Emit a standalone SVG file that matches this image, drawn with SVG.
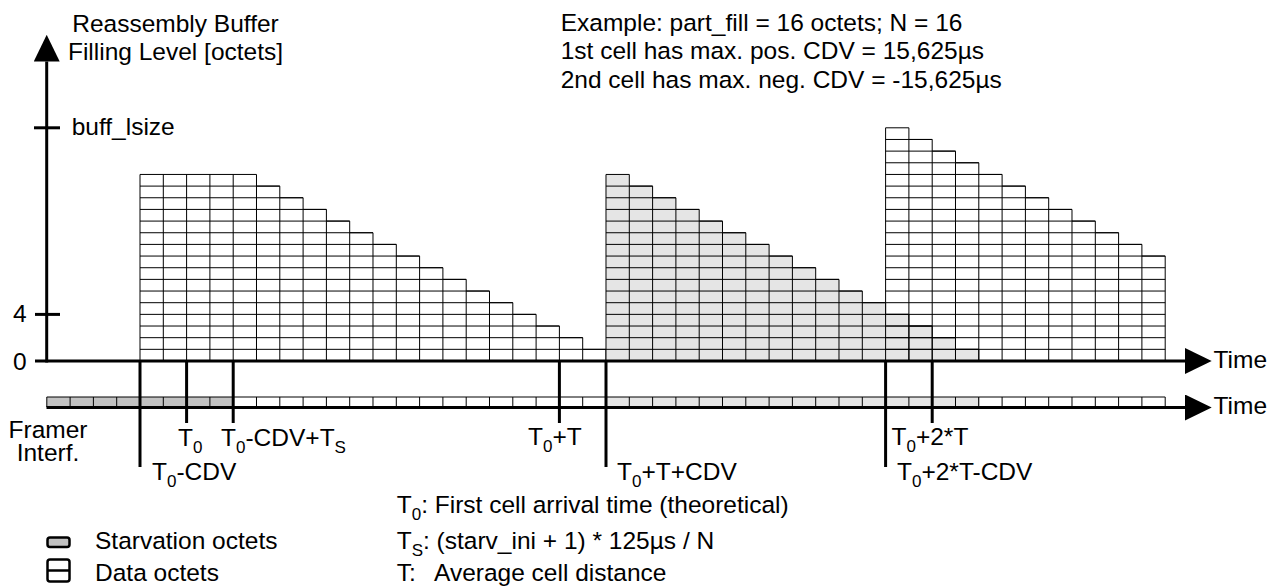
<svg xmlns="http://www.w3.org/2000/svg" width="1278" height="586" viewBox="0 0 1278 586">
<defs>
<marker id="arrow" markerUnits="userSpaceOnUse" markerWidth="27" markerHeight="26" viewBox="0 0 27 26" refX="0" refY="13" orient="auto"><path d="M0,0L26.7,13L0,26Z" fill="#000"/></marker>
</defs>
<style>
text{font-family:"Liberation Sans",Arial,Helvetica,sans-serif;font-size:24.5px;fill:#000}
.sub{font-size:17px}
.ln{fill:none;stroke:#000;stroke-width:1}
.bk{stroke:#000;stroke-width:1}
.w{fill:#fff}.g{fill:#e5e5e5}.s{fill:#c2c2c2}
.axis{stroke:#000;stroke-width:3;fill:none}
.mark{stroke:#000;stroke-width:3;fill:none}
</style>
<rect width="1278" height="586" fill="#fff"/>

<g id="buffer" transform="translate(140,361) scale(23.3,-11.66)">
  <path id="cell1" class="bk w" vector-effect="non-scaling-stroke" d="M0,0V16H5V15H6V14H7V13H8V12H9V11H10V10H11V9H12V8H13V7H14V6H15V5H16V4H17V3H18V2H19V1H20V0Z"/>
  <path id="cell3" class="bk w" vector-effect="non-scaling-stroke" d="M32,0V20H33V19H34V18H35V17H36V16H37V15H38V14H39V13H40V12H41V11H42V10H43V9H44V0Z"/>
  <path id="cell2" class="bk g" vector-effect="non-scaling-stroke" d="M20,0V16H21V15H22V14H23V13H24V12H25V11H26V10H27V9H28V8H29V7H30V6H31V5H32V4H33V3H34V2H35V1H36V0Z"/>
  <path class="ln" vector-effect="non-scaling-stroke" d="M0,1H20M0,2H19M0,3H18M0,4H17M0,5H16M0,6H15M0,7H14M0,8H13M0,9H12M0,10H11M0,11H10M0,12H9M0,13H8M0,14H7M0,15H6
  M1,0V16M2,0V16M3,0V16M4,0V16M5,0V15M6,0V14M7,0V13M8,0V12M9,0V11M10,0V10M11,0V9M12,0V8M13,0V7M14,0V6M15,0V5M16,0V4M17,0V3M18,0V2M19,0V1
  M20,1H36M20,2H35M20,3H34M20,4H33M20,5H32M20,6H31M20,7H30M20,8H29M20,9H28M20,10H27M20,11H26M20,12H25M20,13H24M20,14H23M20,15H22
  M21,0V15M22,0V14M23,0V13M24,0V12M25,0V11M26,0V10M27,0V9M28,0V8M29,0V7M30,0V6M31,0V5M32,0V4M33,0V3M34,0V2M35,0V1
  M32,1H44M32,2H44M32,3H44M32,4H44M32,5H44M32,6H44M32,7H44M32,8H44M32,9H44M32,10H43M32,11H42M32,12H41M32,13H40M32,14H39M32,15H38M32,16H37M32,17H36M32,18H35M32,19H34
  M33,0V19M34,0V18M35,0V17M36,0V16M37,0V15M38,0V14M39,0V13M40,0V12M41,0V11M42,0V10M43,0V9"/>
</g>

<g id="framer" transform="translate(140,0) scale(23.3,1)">
  <rect class="bk s" vector-effect="non-scaling-stroke" x="-4" y="397" width="8" height="10"/>
  <rect class="bk w" vector-effect="non-scaling-stroke" x="4" y="397" width="16" height="10"/>
  <rect class="bk g" vector-effect="non-scaling-stroke" x="20" y="397" width="16" height="10"/>
  <rect class="bk w" vector-effect="non-scaling-stroke" x="36" y="397" width="8" height="10"/>
  <path class="ln" vector-effect="non-scaling-stroke" d="M-3,397v10M-2,397v10M-1,397v10M0,397v10M1,397v10M2,397v10M3,397v10M5,397v10M6,397v10M7,397v10M8,397v10M9,397v10M10,397v10M11,397v10M12,397v10M13,397v10M14,397v10M15,397v10M16,397v10M17,397v10M18,397v10M19,397v10M21,397v10M22,397v10M23,397v10M24,397v10M25,397v10M26,397v10M27,397v10M28,397v10M29,397v10M30,397v10M31,397v10M32,397v10M33,397v10M34,397v10M35,397v10M37,397v10M38,397v10M39,397v10M40,397v10M41,397v10M42,397v10M43,397v10"/>
</g>

<g id="connectors">
  <line class="axis" x1="46.7" y1="362.5" x2="46.7" y2="61.5" marker-end="url(#arrow)"/>
  <line class="axis" x1="35" y1="361" x2="1185" y2="361" marker-end="url(#arrow)"/>
  <line class="axis" x1="46.5" y1="407.5" x2="1185" y2="407.5" marker-end="url(#arrow)"/>
  <line class="axis" x1="34" y1="127.8" x2="60" y2="127.8"/>
  <line class="axis" x1="35" y1="314.4" x2="60" y2="314.4"/>
  <line class="mark" x1="140" y1="361" x2="140" y2="467"/>
  <line class="mark" x1="186.6" y1="361" x2="186.6" y2="423"/>
  <line class="mark" x1="233.2" y1="361" x2="233.2" y2="423"/>
  <line class="mark" x1="559.4" y1="361" x2="559.4" y2="423"/>
  <line class="mark" x1="606" y1="361" x2="606" y2="467"/>
  <line class="mark" x1="885.6" y1="361" x2="885.6" y2="467"/>
  <line class="mark" x1="932.2" y1="361" x2="932.2" y2="423"/>
</g>

<g id="axis-labels">
  <text x="175.5" y="31.7" text-anchor="middle">Reassembly Buffer</text>
  <text x="175.5" y="60" text-anchor="middle">Filling Level [octets]</text>
  <text x="71.7" y="134.5">buff_lsize</text>
  <text x="13" y="322">4</text>
  <text x="13" y="369.5">0</text>
  <text x="1213.5" y="367.5">Time</text>
  <text x="1213.5" y="413.5">Time</text>
  <text x="48" y="438" text-anchor="middle">Framer</text>
  <text x="48" y="461" text-anchor="middle">Interf.</text>
</g>

<g id="example">
  <text x="560.7" y="30.5">Example: part_fill = 16 octets; N = 16</text>
  <text x="560.7" y="59.3">1st cell has max. pos. CDV = 15,625µs</text>
  <text x="560.7" y="88">2nd cell has max. neg. CDV = -15,625µs</text>
</g>

<g id="time-labels">
  <text x="178" y="446">T<tspan class="sub" dy="7">0</tspan></text>
  <text x="221" y="446">T<tspan class="sub" dy="7">0</tspan><tspan dy="-7">-CDV+T</tspan><tspan class="sub" dy="7">S</tspan></text>
  <text x="152" y="480">T<tspan class="sub" dy="7">0</tspan><tspan dy="-7">-CDV</tspan></text>
  <text x="528" y="445">T<tspan class="sub" dy="7">0</tspan><tspan dy="-7">+T</tspan></text>
  <text x="617" y="480">T<tspan class="sub" dy="7">0</tspan><tspan dy="-7">+T+CDV</tspan></text>
  <text x="891.5" y="445">T<tspan class="sub" dy="7">0</tspan><tspan dy="-7">+2*T</tspan></text>
  <text x="897" y="480">T<tspan class="sub" dy="7">0</tspan><tspan dy="-7">+2*T-CDV</tspan></text>
</g>

<g id="definitions">
  <text x="396.7" y="513">T<tspan class="sub" dy="7">0</tspan><tspan dy="-7">: First cell arrival time (theoretical)</tspan></text>
  <text x="396.7" y="549">T<tspan class="sub" dy="7">S</tspan><tspan dy="-7">: (starv_ini + 1) * 125µs / N</tspan></text>
  <text x="396.7" y="581">T:<tspan x="434">Average cell distance</tspan></text>
</g>

<g id="legend">
  <rect x="47.5" y="537.5" width="22" height="9.5" rx="2.5" fill="#c2c2c2" stroke="#000" stroke-width="2.5"/>
  <text x="95" y="549">Starvation octets</text>
  <rect x="47.5" y="559.5" width="22" height="22" rx="2.5" fill="#fff" stroke="#000" stroke-width="2.5"/>
  <line x1="47.5" y1="570.5" x2="69.5" y2="570.5" stroke="#000" stroke-width="2.5"/>
  <text x="95" y="581">Data octets</text>
</g>
</svg>
